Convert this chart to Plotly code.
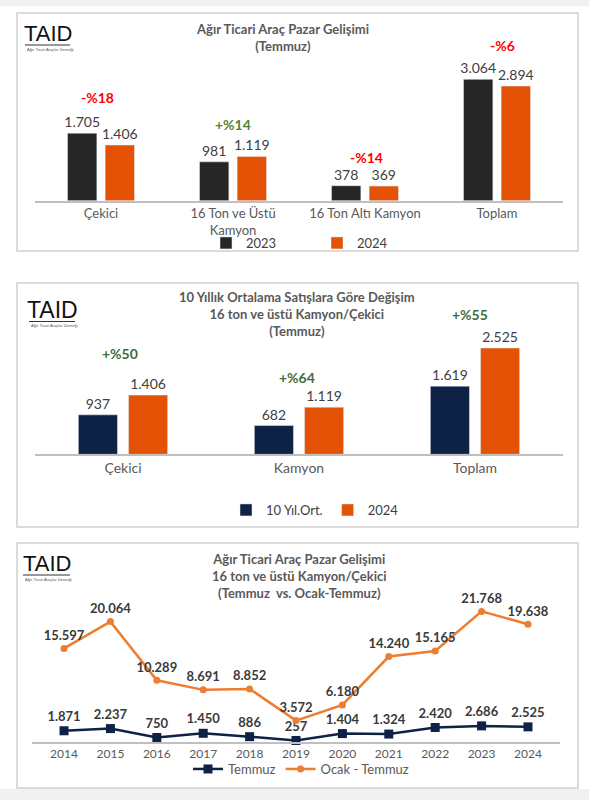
import plotly.graph_objects as go

# ---------------- data ----------------
cat1 = ["Çekici", "16 Ton ve Üstü<br>Kamyon", "16 Ton Altı Kamyon", "Toplam"]
v2023 = [1705, 981, 378, 3064]
v2024_a = [1406, 1119, 369, 2894]
pct1 = ["-%18", "+%14", "-%14", "-%6"]

cat2 = ["Çekici", "Kamyon", "Toplam"]
avg10 = [937, 682, 1619]
v2024_b = [1406, 1119, 2525]
pct2 = ["+%50", "+%64", "+%55"]

years = ["2014", "2015", "2016", "2017", "2018", "2019", "2020", "2021", "2022", "2023", "2024"]
temmuz = [1871, 2237, 750, 1450, 886, 257, 1404, 1324, 2420, 2686, 2525]
ocak_temmuz = [15597, 20064, 10289, 8691, 8852, 3572, 6180, 14240, 15165, 21768, 19638]

title1 = "Ağır Ticari Araç Pazar Gelişimi<br>(Temmuz)"
title2 = "10 Yıllık Ortalama Satışlara Göre Değişim<br>16 ton ve üstü Kamyon/Çekici<br>(Temmuz)"
title3 = "Ağır Ticari Araç Pazar Gelişimi<br>16 ton ve üstü Kamyon/Çekici<br>(Temmuz  vs. Ocak-Temmuz)"
logo_text = "TAID"
logo_sub = "Ağır Ticari Araçlar Derneği"

# ---------------- style ----------------
W, H = 589, 800
FONT = "Lato, 'Open Sans', sans-serif"
BLACK = "#262626"
ORANGE = "#E35205"
NAVY = "#0E2245"
LINE_OR = "#ED7D31"
RED = "#FF0000"
GREEN1 = "#548235"
GREEN2 = "#3F6B3A"
VAL = "#404040"
CATC = "#595959"


def px(x):
    return x / W


def py(y):
    return 1 - y / H


fig = go.Figure()

bar_text = dict(texttemplate="%{y:,}", textposition="outside", constraintext="none",
                textfont=dict(size=14, color=VAL), cliponaxis=False)

# Panel 1
fig.add_trace(go.Bar(x=cat1, y=v2023, name="2023", marker_color=BLACK,
                     xaxis="x", yaxis="y", legend="legend", **bar_text))
fig.add_trace(go.Bar(x=cat1, y=v2024_a, name="2024", marker_color=ORANGE,
                     xaxis="x", yaxis="y", legend="legend", **bar_text))

# Panel 2
fig.add_trace(go.Bar(x=cat2, y=avg10, name="10 Yıl.Ort.", marker_color=NAVY,
                     xaxis="x2", yaxis="y2", legend="legend2", **bar_text))
fig.add_trace(go.Bar(x=cat2, y=v2024_b, name="2024", marker_color=ORANGE,
                     xaxis="x2", yaxis="y2", legend="legend2", **bar_text))

# Panel 3
fig.add_trace(go.Scatter(x=years, y=temmuz, name="Temmuz", mode="lines+markers+text",
                         line=dict(color=NAVY, width=2.5),
                         marker=dict(symbol="square", size=9, color=NAVY),
                         texttemplate="%{y:,}", textposition="top center",
                         textfont=dict(size=13, color="#3A3A3A", weight="bold"),
                         cliponaxis=False, xaxis="x3", yaxis="y3", legend="legend3"))
fig.add_trace(go.Scatter(x=years, y=ocak_temmuz, name="Ocak - Temmuz", mode="lines+markers+text",
                         line=dict(color=LINE_OR, width=2.5),
                         marker=dict(symbol="circle", size=7, color=LINE_OR),
                         texttemplate="%{y:,}", textposition="top center",
                         textfont=dict(size=13, color="#3A3A3A", weight="bold"),
                         cliponaxis=False, xaxis="x3", yaxis="y3", legend="legend3"))

annotations = []
# percent labels panel 1
shift1 = [36, 32, 28, 34]
xs1 = [-4, 0, 1, 5]
for i, t in enumerate(pct1):
    annotations.append(dict(x=cat1[i], y=max(v2023[i], v2024_a[i]), xref="x", yref="y",
                            text="<b>%s</b>" % t, showarrow=False, yshift=shift1[i], xshift=xs1[i],
                            font=dict(size=14, color=RED if t.startswith("-") else GREEN1)))
shift2 = [42, 30, 34]
xs2 = [-3, -2, -5]
for i, t in enumerate(pct2):
    annotations.append(dict(x=cat2[i], y=max(avg10[i], v2024_b[i]), xref="x2", yref="y2",
                            text="<b>%s</b>" % t, showarrow=False, yshift=shift2[i], xshift=xs2[i],
                            font=dict(size=14, color=RED if t.startswith("-") else GREEN2)))

# titles
for t, cx, cy in [(title1, 282, 37.5), (title2, 297, 314), (title3, 299, 576)]:
    annotations.append(dict(x=px(cx), y=py(cy), xref="paper", yref="paper", text="<b>%s</b>" % t,
                            showarrow=False, xanchor="center", yanchor="middle",
                            font=dict(size=13, color=CATC, family=FONT)))

shapes = []
# background strips
shapes.append(dict(type="rect", xref="paper", yref="paper", x0=0, x1=1, y0=py(6), y1=1,
                   fillcolor="#F1F1F1", line_width=0, layer="below"))
shapes.append(dict(type="rect", xref="paper", yref="paper", x0=0, x1=1, y0=0, y1=py(789),
                   fillcolor="#F1F1F1", line_width=0, layer="below"))
# panel boxes
for y0, y1 in [(13, 251), (283, 527), (543, 788)]:
    shapes.append(dict(type="rect", xref="paper", yref="paper", x0=px(17), x1=px(578),
                       y0=py(y1), y1=py(y0), fillcolor="white",
                       line=dict(color="#D0D0D0", width=1.5), layer="below"))

# logos
for lx, ly, lw, sz in [(25, 33, 45, 22), (29, 309.5, 46, 23), (23, 563, 47, 22)]:
    annotations.append(dict(x=px(lx + lw / 2), y=py(ly), xref="paper", yref="paper", text=logo_text,
                            showarrow=False, xanchor="center", yanchor="middle",
                            font=dict(size=sz, color="#111111", family="'Liberation Sans', Arial")))
    shapes.append(dict(type="line", xref="paper", yref="paper", x0=px(lx), x1=px(lx + lw),
                       y0=py(ly + 12), y1=py(ly + 12), line=dict(color="#333333", width=1)))
    annotations.append(dict(x=px(lx), y=py(ly + 16), xref="paper", yref="paper", text=logo_sub,
                            showarrow=False, xanchor="left", yanchor="middle",
                            font=dict(size=4, color="#555555", family="'Liberation Sans', Arial")))

cat_axis = dict(type="category", showline=True, linecolor="#BFBFBF", linewidth=1.5,
                showgrid=False, zeroline=False, ticks="", tickfont=dict(size=13, color=CATC))
val_axis = dict(visible=False, showgrid=False, zeroline=False)

fig.update_layout(
    width=W, height=H, margin=dict(l=0, r=0, t=0, b=0),
    paper_bgcolor="white", plot_bgcolor="rgba(0,0,0,0)",
    font=dict(family=FONT, color=VAL),
    separators=",.",
    barmode="group", bargap=0.43, bargroupgap=0.22,
    xaxis=dict(cat_axis, domain=[px(35), px(563)], anchor="y"),
    yaxis=dict(val_axis, domain=[py(200.7), py(40)], range=[0, 4058], anchor="x"),
    xaxis2=dict(cat_axis, domain=[px(35), px(563)], anchor="y2", tickfont=dict(size=14, color=CATC)),
    yaxis2=dict(val_axis, domain=[py(454.3), py(340)], range=[0, 2715], anchor="x2"),
    xaxis3=dict(cat_axis, domain=[px(32), px(560)], anchor="y3", tickfont=dict(size=12, color=CATC)),
    yaxis3=dict(val_axis, domain=[py(742), py(600)], range=[0, 23667], anchor="x3"),
    legend=dict(orientation="h", x=px(206), y=py(243), xanchor="left", yanchor="middle",
                font=dict(size=13, color=VAL), bgcolor="rgba(0,0,0,0)",
                entrywidth=66, itemwidth=30),
    legend2=dict(orientation="h", x=px(226), y=py(510), xanchor="left", yanchor="middle",
                 font=dict(size=13, color=VAL), bgcolor="rgba(0,0,0,0)", itemwidth=30),
    legend3=dict(orientation="h", x=px(188), y=py(769), xanchor="left", yanchor="middle",
                 font=dict(size=13, color=CATC), bgcolor="rgba(0,0,0,0)", itemwidth=30),
    annotations=annotations, shapes=shapes,
)

fig.write_html("out.html", config={"displayModeBar": False},
               post_script="document.body.style.margin='0px';")
